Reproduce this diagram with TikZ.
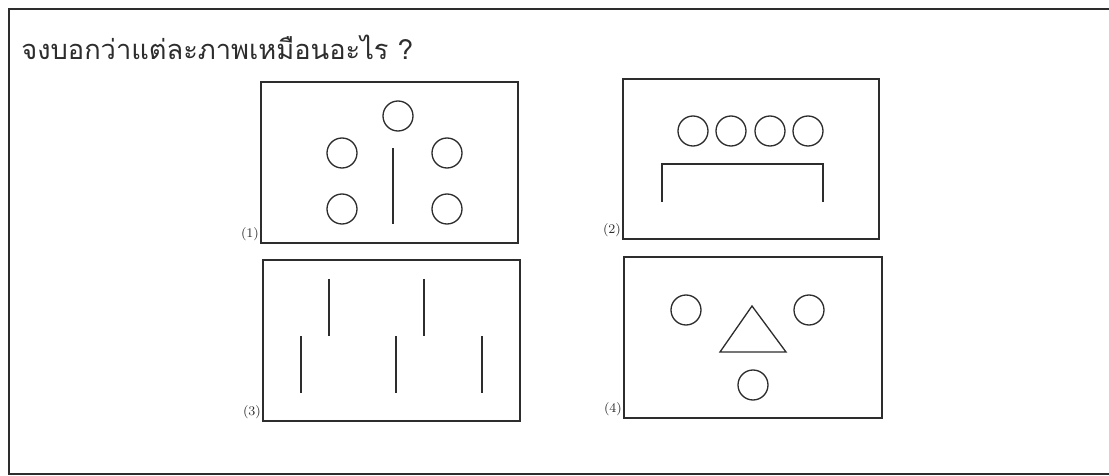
\documentclass[tikz,border=0pt]{standalone}
\usepackage{fontspec}
\newfontfamily\thaifont[Script=Thai]{Loma}
\usetikzlibrary{positioning}
\definecolor{inkgrey}{RGB}{45,45,45}

\begin{document}
\begin{tikzpicture}[
    x=0.02cm, y=-0.02cm,
    frame/.style={draw=inkgrey, line width=1pt},
    stroke/.style={draw=inkgrey, line width=0.75pt},
    ring/.style={circle, draw=inkgrey, line width=0.75pt, minimum size=0.6cm, inner sep=0pt},
    tag/.style={anchor=south east, inner sep=1pt, font=\fontsize{7.5}{8}\selectfont, text=inkgrey}
]
\useasboundingbox (0,0) rectangle (1109,476);
% outer frame and question
\draw[frame] (1109,9) -- (9,9) -- (9,474) -- (1109,474);
\node[anchor=west, inner sep=0pt, font=\thaifont\fontsize{15.5}{18}\selectfont, text=inkgrey] (title) at (21,47) {จงบอกว่าแต่ละภาพเหมือนอะไร ?};

% picture (1)
\draw[frame] (261,82) rectangle (518,243);
\node[tag] (tag1) at (261,243) {(1)};
\node[ring] (a1) at (398,116) {};
\node[ring] (a2) at (342,153) {};
\node[ring] (a3) at (447,153) {};
\node[ring] (a4) at (342,209) {};
\node[ring] (a5) at (447,209) {};
\draw[stroke] (393,148) -- (393,224);

% picture (2)
\draw[frame] (623,79) rectangle (879,239);
\node[tag] (tag2) at (623,239) {(2)};
\foreach \i/\cx in {1/693,2/731,3/770,4/808}
  \node[ring] (b\i) at (\cx,131) {};
\draw[stroke] (662,202) -- (662,164) -- (823,164) -- (823,202);

% picture (3)
\draw[frame] (263,260) rectangle (520,421);
\node[tag] (tag3) at (263,421) {(3)};
\foreach \cx in {329,424}
  \draw[stroke] (\cx,279) -- (\cx,336);
\foreach \cx in {301,396,482}
  \draw[stroke] (\cx,336) -- (\cx,393);

% picture (4)
\draw[frame] (624,257) rectangle (882,418);
\node[tag] (tag4) at (624,418) {(4)};
\node[ring] (d1) at (686,310) {};
\node[ring] (d2) at (809,310) {};
\node[ring] (d3) at (753,385) {};
\draw[stroke] (752,306) -- (786,352) -- (720,352) -- cycle;
\end{tikzpicture}
\end{document}
